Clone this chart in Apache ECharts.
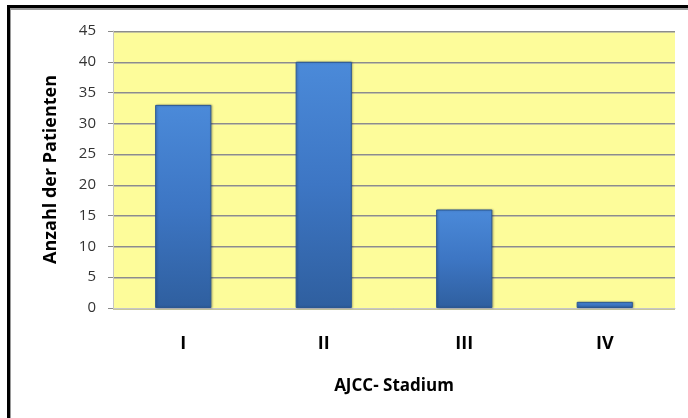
<!DOCTYPE html>
<html>
<head>
<meta charset="utf-8">
<script src="https://cdn.jsdelivr.net/npm/echarts@6/dist/echarts.min.js"></script>
<style>
html,body{margin:0;padding:0;background:#fff;}
#chart{width:688px;height:418px;}
</style>
</head>
<body>
<div id="chart"></div>
<script>
var categories = ['I', 'II', 'III', 'IV'];
var patients = [33, 40, 16, 1];
var yTicks = { min: 0, max: 45, interval: 5 };
var xTitle = 'AJCC- Stadium';
var yTitle = 'Anzahl der Patienten';

var chart = echarts.init(document.getElementById('chart'), null, { renderer: 'canvas' });
var font = '"Open Sans", "DejaVu Sans", sans-serif';

chart.setOption({
  animation: false,
  backgroundColor: 'transparent',
  graphic: [
    { type: 'rect', z: -100, shape: { x: 7, y: 5, width: 700, height: 430 }, style: { fill: '#000' }, silent: true },
    { type: 'rect', z: -99, shape: { x: 10, y: 8, width: 700, height: 430 }, style: { fill: '#9a9a9a' }, silent: true },
    { type: 'rect', z: -98, shape: { x: 11, y: 10, width: 700, height: 430 }, style: { fill: '#fff' }, silent: true }
  ],
  grid: {
    left: 113, top: 31, width: 562, height: 277,
    show: true, backgroundColor: '#fdfc9a', borderWidth: 0
  },
  xAxis: {
    type: 'category',
    data: categories,
    name: xTitle,
    nameLocation: 'middle',
    nameGap: 70,
    nameTextStyle: { fontFamily: font, fontSize: 17, fontWeight: 'bold', color: '#000' },
    axisLine: { show: true, lineStyle: { color: '#c6c6c6', width: 1 } },
    axisTick: { show: false },
    axisLabel: { margin: 27, fontFamily: font, fontSize: 18, fontWeight: 'bold', color: '#000' },
    splitLine: { show: false }
  },
  yAxis: {
    type: 'value',
    min: yTicks.min, max: yTicks.max, interval: yTicks.interval,
    name: yTitle,
    nameLocation: 'middle',
    nameRotate: 90,
    nameGap: 53,
    nameTextStyle: { fontFamily: font, fontSize: 18, fontWeight: 'bold', color: '#000' },
    axisLine: { show: true, lineStyle: { color: '#c6c6c6', width: 1 } },
    axisTick: { show: true, length: 5, lineStyle: { color: '#8a8a8a' } },
    axisLabel: { margin: 17, fontFamily: font, fontSize: 15, color: '#333' },
    splitLine: { show: true, lineStyle: { color: '#8c8c8c', width: 1, shadowColor: '#c4c4a0', shadowOffsetY: 1, shadowBlur: 0 } }
  },
  series: [{
    type: 'bar',
    data: patients,
    barWidth: '40%',
    itemStyle: {
      color: {
        type: 'linear', x: 0, y: 0, x2: 0, y2: 1,
        colorStops: [
          { offset: 0, color: '#4b8ad9' },
          { offset: 0.5, color: '#3d76c4' },
          { offset: 1, color: '#2f5f9f' }
        ]
      },
      borderColor: '#2c5892',
      borderWidth: 1,
      shadowColor: 'rgba(0,0,0,0.25)',
      shadowBlur: 2,
      shadowOffsetX: 1
    }
  }]
});
</script>
</body>
</html>
